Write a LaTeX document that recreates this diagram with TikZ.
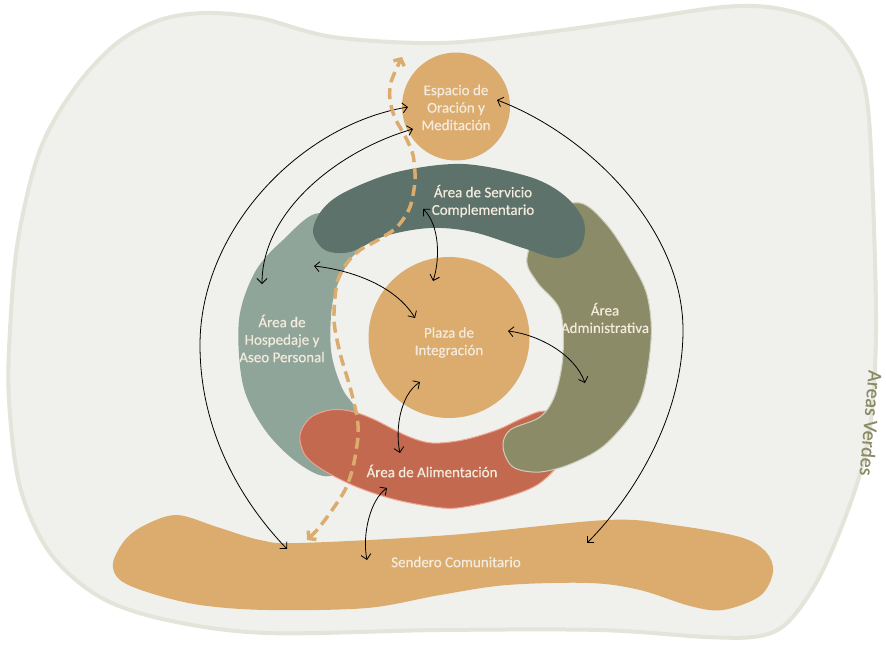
\documentclass[tikz,border=0pt]{standalone}
\usepackage{fontspec}
\setmainfont{Carlito}
\newfontfamily\lblfont{Carlito}[FakeBold=0.35]
\usetikzlibrary{arrows.meta}
\definecolor{bgfill}{HTML}{F0F1EC}
\definecolor{bgline}{HTML}{E3E4DA}
\definecolor{tanc}{HTML}{DBAC6E}
\definecolor{tealc}{HTML}{5D726B}
\definecolor{hospc}{HTML}{8FA59A}
\definecolor{redc}{HTML}{C2694F}
\definecolor{redline}{HTML}{EDA38F}
\definecolor{olivec}{HTML}{8C8B68}
\definecolor{oliveline}{HTML}{CDCFBC}
\definecolor{txtc}{HTML}{F4EBDD}
\begin{document}
\begin{tikzpicture}[x=1pt,y=-1pt,
  lbl/.style={text=txtc, align=center, font=\lblfont\fontsize{15}{17.5}\selectfont, inner sep=0pt},
  zonecirc/.style={circle, fill=tanc, inner sep=0pt},
  biarrow/.style={black, line width=0.8pt, {Straight Barb[length=5pt,width=10pt]}-{Straight Barb[length=5pt,width=10pt]}},
  dashpath/.style={tanc, line width=3.5pt, dash pattern=on 11pt off 6pt, {Straight Barb[length=5pt,width=12pt]}-{Straight Barb[length=5pt,width=12pt]}}
]
\useasboundingbox (0,0) rectangle (886,645);
% background green area
\filldraw[fill=bgfill, draw=bgline, line width=4pt] plot[smooth cycle, tension=0.55] coordinates {
 (10,330) (18,240) (40,150) (75,88) (117,43) (160,20) (205,13) (260,18) (333,37) (440,43) (540,33) (640,19) (723,7) (775,8) (823,23) (852,55) (867,100) (873,200) (876,330) (871,420) (856,487) (823,570) (790,620) (760,636) (707,637) (600,630) (440,630) (267,633) (167,620) (100,597) (50,553) (20,487) (9,400)};
% Sendero comunitario
\fill[tanc] plot[smooth cycle, tension=0.55] coordinates {
 (113,563) (125,540) (145,525) (177,515) (217,527) (260,540) (300,543) (450,535) (607,520) (673,525) (740,537) (766,552) (773,572) (760,596) (723,610) (690,606) (640,590) (590,583) (507,585) (440,595) (367,608) (267,610) (200,605) (150,593) (120,580)};
% Hospedaje
\fill[hospc] plot[smooth cycle, tension=0.55] coordinates {
 (320,213) (283,240) (255,272) (239,320) (243,385) (265,430) (298,463) (330,476) (362,450) (358,413) (342,388) (331,350) (333,300) (348,262) (365,240)};
% Alimentacion
\filldraw[fill=redc, draw=redline, line width=1pt] plot[smooth cycle, tension=0.55] coordinates {
 (300,435) (310,418) (330,410) (350,411) (373,419) (407,436) (432,443) (463,440) (497,430) (523,418) (545,411) (570,420) (565,455) (540,483) (507,497) (470,506) (443,508) (397,500) (357,487) (323,470) (305,455)};
% Administrativa
\filldraw[fill=olivec, draw=oliveline, line width=1pt] plot[smooth cycle, tension=0.55] coordinates {
 (527,258) (545,215) (580,203) (607,225) (630,260) (647,295) (651,340) (640,400) (607,443) (573,463) (540,472) (513,467) (503,447) (510,430) (540,417) (555,395) (563,355) (560,310) (537,282)};
% Servicio complementario
\fill[tealc] plot[smooth cycle, tension=0.55] coordinates {
 (313,232) (322,210) (345,192) (397,172) (463,164) (530,177) (565,196) (584,222) (580,248) (557,258) (523,248) (473,232) (430,228) (385,236) (350,252) (325,250)};
% circles
\node[zonecirc, minimum size=108pt] (esp) at (456,106.5) {};
\node[zonecirc, minimum size=161pt] (plaza) at (449,337.5) {};
% labels
\node[lbl] (tesp) at (456,107.5) {Espacio de\\Oración y\\Meditación};
\node[lbl] (tplaza) at (449,342.5) {Plaza de\\Integración};
\node[lbl] (tserv) at (483,201) {Área de Servicio\\Complementario};
\node[lbl] (thosp) at (282,338.5) {Área de\\Hospedaje y\\Aseo Personal};
\node[lbl] (tadmin) at (605,318) {Área\\Administrativa};
\node[lbl] (talim) at (432,471) {Área de Alimentación};
\node[lbl] (tsend) at (456,562) {Sendero Comunitario};
\node[text=olivec, font=\lblfont\fontsize{20}{22}\selectfont, rotate=-95, inner sep=0pt] (tverdes) at (871,423) {Areas Verdes};
% connector end points
\coordinate (a1) at (408,107); \coordinate (b1) at (287,549); \coordinate (m1) at (200,345);
\coordinate (a2) at (413,129); \coordinate (b2) at (262,284);
\coordinate (a3) at (497,100); \coordinate (b3) at (587,543); \coordinate (m3) at (683,330);
\coordinate (a4) at (423,209); \coordinate (b4) at (433,281);
\coordinate (a5) at (314,266); \coordinate (b5) at (415,318);
\coordinate (a6) at (508,331); \coordinate (b6) at (585,383);
\coordinate (a7) at (420,382); \coordinate (b7) at (400,453);
\coordinate (a8) at (387,488); \coordinate (b8) at (367,560);
\coordinate (d1) at (307,540); \coordinate (d2) at (402,57);
% connectors
\draw[biarrow] (a1) .. controls (300,125) and (200,230) .. (m1) .. controls (200,430) and (240,500) .. (b1);
\draw[biarrow] (a2) .. controls (340,150) and (262,210) .. (b2);
\draw[biarrow] (a3) .. controls (590,135) and (683,230) .. (m3) .. controls (683,420) and (630,500) .. (b3);
\draw[biarrow] (a4) .. controls (440,225) and (440,260) .. (b4);
\draw[biarrow] (a5) .. controls (350,270) and (395,285) .. (b5);
\draw[biarrow] (a6) .. controls (540,335) and (575,355) .. (b6);
\draw[biarrow] (a7) .. controls (400,395) and (395,430) .. (b7);
\draw[biarrow] (a8) .. controls (370,500) and (362,535) .. (b8);
% dashed route
\draw[dashpath] plot[smooth, tension=0.5] coordinates {
 (d1) (317,530) (330,513) (345,490) (353,467) (358,437) (357,417) (350,387) (340,353) (334,320) (337,283) (347,263) (360,250) (378,240) (397,227) (410,207) (415,180) (413,155) (406,138) (395,118) (390,100) (391,82) (d2)};
\end{tikzpicture}
\end{document}
